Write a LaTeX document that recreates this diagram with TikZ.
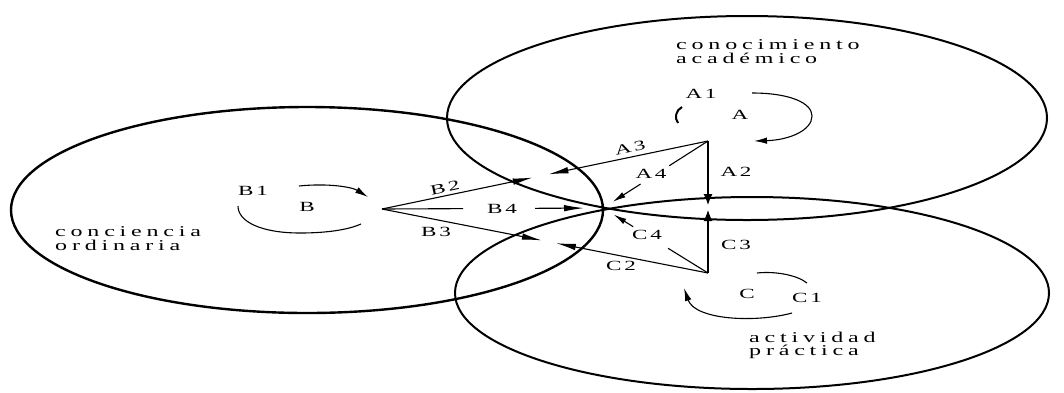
\documentclass[tikz,border=0pt]{standalone}
\usepackage{fontspec}
\usepackage{graphicx}
\usetikzlibrary{arrows.meta,calc}
\newfontfamily\spfont{Liberation Serif}[LetterSpace=20]
\newfontfamily\lbfont{Liberation Serif}[LetterSpace=12]
\newcommand{\txtw}[1]{\scalebox{1.6}[1]{\fontsize{15}{14}\selectfont\spfont #1}}
\newcommand{\lbl}[1]{\scalebox{1.65}[1]{\fontsize{14}{14}\selectfont\lbfont #1}}
\tikzset{
  ell/.style={line width=2pt},
  ln/.style={line width=1.1pt},
  lab/.style={inner sep=0pt},
  txt/.style={inner sep=0pt, anchor=base west, align=left, font=\fontsize{15}{14}\selectfont},
  wedge/.style={-{Latex[length=20pt,width=6.5pt]}},
  vhead/.style={-{Latex[length=11pt,width=9pt]}},
  arch/.style={-{Latex[length=13pt,width=6.5pt]}}
}
\begin{document}
\begin{tikzpicture}[x=1pt,y=-1pt]
\fill[white] (0,0) rectangle (1064,392);
\useasboundingbox (0,0) rectangle (1064,392);
% ellipses
\draw[ell] (747,118) ellipse [x radius=300, y radius=102];
\draw[ell] (752,293) ellipse [x radius=297, y radius=96];
\draw[ell, line width=2.4pt] (307,210) ellipse [x radius=296, y radius=103];
% key points
\coordinate (T) at (708,141);
\coordinate (U) at (708,273);
\coordinate (Bp) at (382,209);
\coordinate (P) at (603,208);
% texts (anchor = baseline of the last line)
\node[txt] (ca) at (676,63) {\txtw{conocimiento}\\\txtw{académico}};
\node[txt] (co) at (55,250) {\txtw{conciencia}\\\txtw{ordinaria}};
\node[txt, font=\fontsize{15}{13}\selectfont] (ap) at (749,355) {\txtw{actividad}\\\txtw{práctica}};
% labels
\node[lab] (lA1) at (701,94) {\lbl{A1}};
\node[lab] (lA) at (740,115) {\lbl{A}};
\node[lab] (lA2) at (736,172) {\lbl{A2}};
\node[lab,rotate=12] (lA3) at (630,148) {\lbl{A3}};
\node[lab] (lA4) at (651,174) {\lbl{A4}};
\node[lab] (lB1) at (253,191) {\lbl{B1}};
\node[lab] (lB) at (307,207) {\lbl{B}};
\node[lab,rotate=12] (lB2) at (445,188) {\lbl{B2}};
\node[lab] (lB3) at (436,232) {\lbl{B3}};
\node[lab] (lB4) at (502,209) {\lbl{B4}};
\node[lab] (lC) at (747,294) {\lbl{C}};
\node[lab] (lC1) at (807,298) {\lbl{C1}};
\node[lab] (lC2) at (621,266) {\lbl{C2}};
\node[lab] (lC3) at (736,245) {\lbl{C3}};
\node[lab] (lC4) at (647,235) {\lbl{C4}};
% connectors
\draw[ln,vhead] (T) -- ($(T)!64pt!(U)$);
\draw[ln,vhead] (U) -- ($(U)!63pt!(T)$);
\draw[ln,wedge] (Bp) -- ($(Bp)!154pt!(T)$);
\draw[ln,wedge] (T) -- ($(T)!163pt!(Bp)$);
\draw[ln,wedge] (Bp) -- ($(Bp)!163pt!(U)$);
\draw[ln,wedge] (U) -- ($(U)!155pt!(Bp)$);
\draw[ln] (Bp) -- ($(Bp)!81pt!(P)$);
\draw[ln,wedge] ($(Bp)!153pt!(P)$) -- ($(Bp)!202pt!(P)$);
\draw[ln] (T) -- ($(T)!46pt!(P)$);
\draw[ln,-{Latex[length=13pt,width=6pt]}] ($(T)!80pt!(P)$) -- ($(T)!113pt!(P)$);
\draw[ln] (U) -- ($(U)!47pt!(P)$);
\draw[ln,-{Latex[length=13pt,width=6pt]}] ($(U)!88pt!(P)$) -- ($(U)!111pt!(P)$);
% cycle arcs
\draw[ln,arch] (299,186) .. controls (328,183) and (352,187) .. (368,197);
\draw[ln] (238,206) .. controls (238,222) and (262,233) .. (300,233) .. controls (330,233) and (350,229) .. (361,224);
\draw[line width=2pt] (682,107) .. controls (676,110) and (674,118) .. (678,123);
\draw[ln,arch] (752,93) .. controls (790,93) and (812,103) .. (812,116) .. controls (812,130) and (790,140) .. (754,141);
\draw[ln] (757,273) .. controls (775,271) and (797,275) .. (807,283);
\draw[ln,arch] (792,313) .. controls (755,323) and (695,320) .. (684,288);
\end{tikzpicture}
\end{document}
